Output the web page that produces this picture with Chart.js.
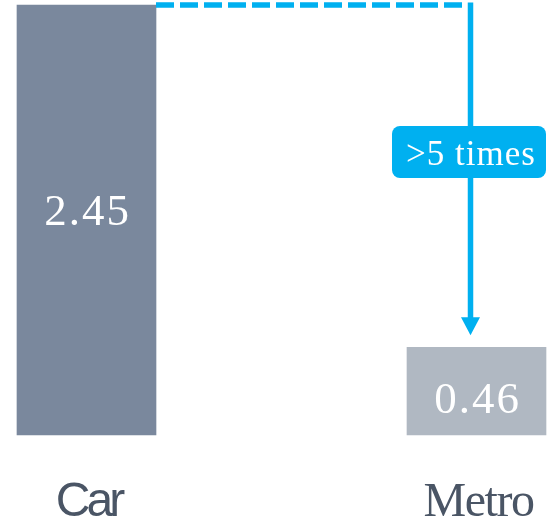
<!DOCTYPE html>
<html>
<head>
<meta charset="utf-8">
<script src="https://cdn.jsdelivr.net/npm/chart.js@4/dist/chart.umd.min.js"></script>
<style>
  html, body { margin: 0; padding: 0; background: #ffffff; }
  #wrap { width: 549px; height: 522px; }
</style>
</head>
<body>
<div id="wrap"><canvas id="c" width="549" height="522"></canvas></div>
<script>
// ---- data ----
const categories = ['Car', 'Metro'];
const values = [2.45, 0.46];
const valueLabels = ['2.45', '0.46'];
const ratioLabel = '>5 times';
const axisMin = -0.05;

// ---- styles ----
const barColors = ['#7a889d', '#b0b8c2'];
const accent = '#00b0f0';
const textColor = '#4a5565';
const catFonts = ['48px "Liberation Sans", Arial, sans-serif', '48px "Liberation Serif", "Times New Roman", serif'];
const catSpacing = ['-4px', '-1.5px'];
const valueFont = '45px "Liberation Serif", "Times New Roman", serif';
const valueBaselineFromTop = [220, 66];

const overlay = {
  id: 'overlay',
  afterDatasetsDraw(chart) {
    const ctx = chart.ctx;
    const meta = chart.getDatasetMeta(0);
    const xs = chart.scales.x, ys = chart.scales.y;
    const carBar = meta.data[0], metroBar = meta.data[1];
    const topY = ys.getPixelForValue(values[0]);
    const metroTop = ys.getPixelForValue(values[1]);
    const startX = carBar.x + carBar.width / 2;
    const arrowX = metroBar.x - 6;

    ctx.save();
    // dashed horizontal line
    ctx.strokeStyle = accent;
    ctx.lineWidth = 5.5;
    ctx.setLineDash([18, 6]);
    ctx.beginPath();
    ctx.moveTo(startX, topY);
    ctx.lineTo(arrowX - 3, topY);
    ctx.stroke();
    // vertical solid line
    ctx.setLineDash([]);
    const headTop = metroTop - 30;
    const tipY = metroTop - 12;
    ctx.beginPath();
    ctx.moveTo(arrowX, topY - 2.5);
    ctx.lineTo(arrowX, headTop + 1);
    ctx.stroke();
    // arrow head
    ctx.fillStyle = accent;
    ctx.beginPath();
    ctx.moveTo(arrowX - 9.5, headTop);
    ctx.lineTo(arrowX + 9.5, headTop);
    ctx.lineTo(arrowX, tipY);
    ctx.closePath();
    ctx.fill();

    // ratio box
    const bx = 392, by = 126, bw = 154, bh = 52, r = 8;
    ctx.beginPath();
    ctx.roundRect(bx, by, bw, bh, r);
    ctx.fill();
    ctx.fillStyle = '#ffffff';
    ctx.font = '35px "Liberation Serif", "Times New Roman", serif';
    ctx.letterSpacing = '1px';
    ctx.textAlign = 'center';
    ctx.textBaseline = 'alphabetic';
    ctx.fillText(ratioLabel, bx + bw / 2 + 2, 165);

    // value labels
    ctx.font = valueFont;
    ctx.letterSpacing = '2px';
    meta.data.forEach((bar, i) => {
      ctx.fillText(valueLabels[i], bar.x + 1, bar.y + valueBaselineFromTop[i]);
    });

    // category labels
    ctx.fillStyle = textColor;
    categories.forEach((c, i) => {
      ctx.font = catFonts[i];
      ctx.letterSpacing = catSpacing[i];
      const x = xs.getPixelForValue(i);
      ctx.fillText(c, x + 2, 516);
    });
    ctx.restore();
  }
};

new Chart(document.getElementById('c'), {
  type: 'bar',
  data: {
    labels: categories,
    datasets: [{
      data: values,
      backgroundColor: barColors,
      borderWidth: 0,
      barThickness: 139,
      base: axisMin,
      clip: false
    }]
  },
  options: {
    responsive: false,
    animation: false,
    devicePixelRatio: 1,
    layout: { padding: { left: 86.5, right: 72.5, top: 5, bottom: 87 } },
    plugins: { legend: { display: false }, tooltip: { enabled: false } },
    scales: {
      x: { display: false, offset: false },
      y: { display: false, min: axisMin, max: 2.45 }
    }
  },
  plugins: [overlay]
});
</script>
</body>
</html>
